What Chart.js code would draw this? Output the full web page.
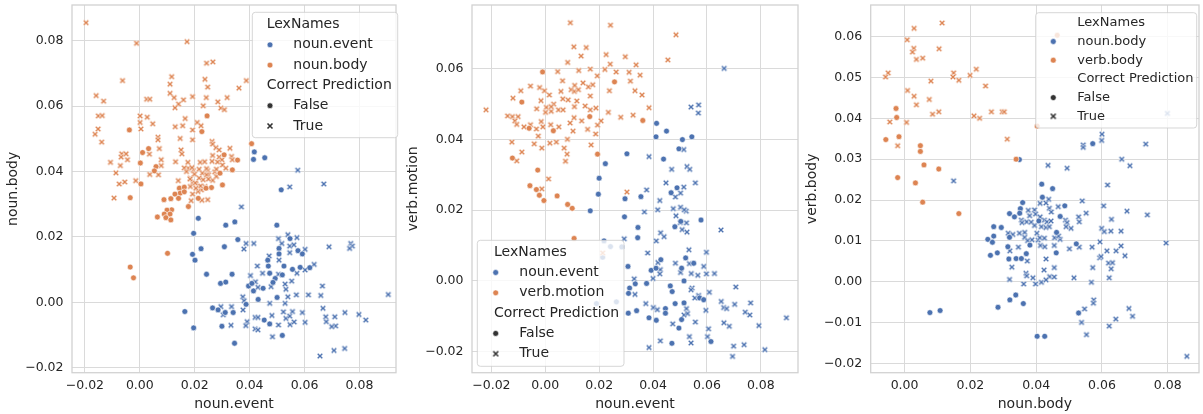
<!DOCTYPE html>
<html><head><meta charset="utf-8">
<script src="https://cdn.jsdelivr.net/npm/chart.js@4.4.1/dist/chart.umd.min.js"></script>
<style>
html,body{margin:0;padding:0;background:#fff;}
#wrap{position:relative;width:1203px;height:414px;overflow:hidden;background:#fff;}
canvas{position:absolute;top:0;}
</style></head><body>
<div id="wrap">
<canvas id="c1" style="left:0px" width="400" height="414"></canvas>
<canvas id="c2" style="left:400px" width="402" height="414"></canvas>
<canvas id="c3" style="left:800px" width="403" height="414"></canvas>
</div>
<script>
// ---------- labels ----------
const hueTitle = 'LexNames';
const styleTitle = 'Correct Prediction';
const styleLabels = ['False', 'True'];
const p1Hue = ['noun.event', 'noun.body'];
const p2Hue = ['noun.event', 'verb.motion'];
const p3Hue = ['noun.body', 'verb.body'];
const p1Axes = ['noun.event', 'noun.body'];
const p2Axes = ['noun.event', 'verb.motion'];
const p3Axes = ['noun.body', 'verb.body'];
const p1XTicks = [-0.02, 0, 0.02, 0.04, 0.06, 0.08];
const p1YTicks = [-0.02, 0, 0.02, 0.04, 0.06, 0.08];
const p2XTicks = [-0.02, 0, 0.02, 0.04, 0.06, 0.08];
const p2YTicks = [-0.02, 0, 0.02, 0.04, 0.06];
const p3XTicks = [0, 0.02, 0.04, 0.06, 0.08];
const p3YTicks = [-0.02, -0.01, 0, 0.01, 0.02, 0.03, 0.04, 0.05, 0.06];

// ---------- panel 1: noun.event vs noun.body ----------
const p1BodyTrue = [[-0.0196,0.0855],[-0.0012,0.0792],[0.0172,0.0797],[0.0243,0.0731],[0.0266,0.0735],[-0.0063,0.0678],[0.0116,0.069],[0.0237,0.0682],[0.0388,0.0678],[0.0361,0.0655],[0.0247,0.0658],[0.011,0.0667],[-0.0159,0.0632],[-0.0132,0.0615],[0.0025,0.0621],[0.0036,0.0621],[0.011,0.0639],[0.0125,0.0626],[0.0159,0.0619],[0.0192,0.0629],[0.0242,0.0626],[0.0141,0.0606],[0.0128,0.0595],[0.0231,0.0601],[0.0284,0.0613],[0.0318,0.0626],[0.0295,0.0594],[0.0308,0.0589],[-0.0151,0.057],[-0.0137,0.0571],[0.0001,0.057],[0.0027,0.0566],[0.0165,0.0562],[-0.0152,0.053],[-0.0163,0.0514],[-0.0139,0.049],[0.0001,0.055],[0.0004,0.053],[0.0047,0.0546],[0.0129,0.0537],[0.0156,0.054],[0.0209,0.055],[0.0223,0.054],[0.0192,0.0527],[0.0147,0.0501],[0.0066,0.0505],[0.0066,0.0497],[0.0192,0.0497],[0.0263,0.0492],[0.0265,0.0484],[0.0277,0.0473],[0.0328,0.0471],[0.015,0.0466],[0.0071,0.047],[-0.0066,0.0454],[-0.005,0.0454],[-0.0068,0.0444],[-0.0045,0.0436],[0.0035,0.0453],[0.0153,0.0454],[-0.0107,0.0428],[-0.0071,0.0418],[0.0078,0.0436],[0.0078,0.0418],[0.013,0.043],[0.0175,0.0428],[0.022,0.0428],[0.0236,0.043],[0.0265,0.0449],[0.0289,0.0444],[0.0299,0.0436],[0.0334,0.0446],[0.0337,0.0436],[-0.0087,0.0396],[-0.0075,0.0362],[-0.0055,0.0368],[-0.0015,0.0372],[0.0036,0.0391],[0.0068,0.039],[0.014,0.0372],[0.0176,0.041],[0.0195,0.0403],[0.0216,0.0407],[0.0228,0.0395],[0.0247,0.0403],[0.0273,0.0399],[0.0184,0.038],[0.0192,0.0366],[0.0204,0.0362],[0.0216,0.038],[0.0231,0.0375],[0.025,0.039],[0.0265,0.0373],[0.0237,0.0354],[0.0224,0.0344],[0.0212,0.0339],[0.0192,0.0331],[0.0187,0.0311],[0.0247,0.0314],[-0.0094,0.0319],[0.0289,0.0466],[0.0263,0.0431],[0.0283,0.0429],[0.0301,0.042],[0.0313,0.041],[0.0243,0.0409],[0.0279,0.0407],[0.019,0.0412],[0.0162,0.0411],[0.017,0.04],[0.0199,0.0392],[0.0243,0.039],[0.0279,0.0385],[0.025,0.0377],[0.0183,0.0377],[0.0202,0.0365],[0.0221,0.0356],[0.0184,0.0354],[0.0204,0.0349],[0.0226,0.0312]];
const p1BodyFalse = [[-0.0038,0.0527],[0.0245,0.057],[0.0226,0.0522],[0.0407,0.0485],[0.001,0.0458],[0.0032,0.047],[0.0002,0.0426],[0.0059,0.0415],[0.0053,0.0402],[0.0004,0.0362],[0.0307,0.0451],[0.0356,0.0435],[0.0337,0.0405],[0.0292,0.0395],[0.0301,0.0359],[0.0261,0.0351],[0.0241,0.0349],[0.0144,0.0349],[0.0162,0.0352],[0.0147,0.0334],[0.0162,0.0338],[0.0128,0.0331],[0.0141,0.0318],[0.0088,0.0314],[0.0113,0.0317],[-0.0035,0.032],[0.0213,0.0318],[0.0177,0.0293],[0.0116,0.0283],[0.0099,0.0282],[0.0089,0.027],[0.011,0.027],[0.0064,0.0261],[0.0095,0.0259],[0.0113,0.0252],[0.0101,0.015],[-0.0035,0.0108],[-0.0023,0.0075]];
const p1EventFalse = [[0.0417,0.046],[0.0414,0.0437],[0.0455,0.0442],[0.0515,0.0344],[0.0213,0.0257],[0.0196,0.0211],[0.0313,0.0236],[0.0346,0.0246],[0.0499,0.0236],[0.0357,0.0192],[0.0223,0.0164],[0.0192,0.0147],[0.0201,0.0129],[0.0308,0.017],[0.0243,0.0086],[0.0294,0.0058],[0.0313,0.0062],[0.0336,0.0086],[0.0396,0.005],[0.0414,0.0035],[0.0431,0.0009],[0.0387,-0.0006],[0.0408,0.0058],[0.0449,0.0043],[0.0466,0.0129],[0.0468,0.0111],[0.0507,0.0165],[0.0507,0.0148],[0.0547,0.0195],[0.0576,0.0158],[0.0592,0.0148],[0.0556,0.0101],[0.0584,0.0107],[0.0619,0.0106],[0.0525,0.0111],[0.0473,0.0089],[0.0493,0.0073],[0.0485,0.0061],[0.0519,0.0084],[0.05,0.0015],[0.0164,-0.0028],[0.0265,-0.0017],[0.0285,-0.0023],[0.0311,-0.0031],[0.034,-0.0031],[0.0299,-0.0073],[0.0196,-0.0078],[0.0345,-0.0125],[0.0453,-0.0054],[0.0473,-0.0066],[0.0519,-0.0101]];
const p1EventTrue = [[0.037,0.0292],[0.0575,0.0404],[0.0546,0.0353],[0.067,0.0362],[0.0539,0.0207],[0.0572,0.0198],[0.0505,0.0195],[0.0517,0.018],[0.0546,0.0172],[0.0561,0.0176],[0.0546,0.0152],[0.0602,0.0162],[0.0387,0.018],[0.0415,0.018],[0.0379,0.0163],[0.0471,0.0142],[0.0428,0.0111],[0.0507,0.0129],[0.0572,0.0089],[0.0635,0.0116],[0.0602,0.0099],[0.0447,0.0089],[0.0403,0.0082],[0.0421,0.0063],[0.043,0.0046],[0.0478,0.0048],[0.0505,0.0086],[0.0529,0.0056],[0.0553,0.0065],[0.0532,0.004],[0.0539,0.0017],[0.0529,-0.0003],[0.057,0.0023],[0.0665,0.005],[0.0614,0.0023],[0.0659,0.0021],[0.0667,-0.0018],[0.0768,0.018],[0.0774,0.0172],[0.0764,0.0165],[0.0689,0.017],[0.0905,0.0024],[0.0375,0.0017],[0.038,0.0005],[0.0376,-0.0023],[0.0295,-0.0013],[0.0334,-0.0013],[0.0304,-0.0038],[0.0332,-0.007],[0.0391,-0.0059],[0.0386,-0.0071],[0.042,-0.0046],[0.043,-0.0046],[0.042,-0.0081],[0.043,-0.0084],[0.0481,-0.004],[0.0483,-0.0105],[0.0473,-0.0003],[0.0505,-0.0069],[0.0523,-0.0029],[0.0532,-0.0049],[0.0546,-0.0042],[0.0556,-0.0028],[0.0547,-0.0068],[0.0562,-0.006],[0.0592,-0.0031],[0.0602,-0.0061],[0.0677,-0.0044],[0.071,-0.0044],[0.0713,-0.0072],[0.0699,-0.0074],[0.0679,-0.0059],[0.0747,-0.0031],[0.0798,-0.0037],[0.0823,-0.0054],[0.0656,-0.0164],[0.0707,-0.0147],[0.0746,-0.0141]];

// ---------- panel 2: noun.event vs verb.motion ----------
const p2MotionTrue = [[0.0093,0.0729],[0.0242,0.0722],[0.0485,0.0695],[0.0106,0.0661],[0.0152,0.0659],[0.0133,0.0635],[0.0226,0.0639],[0.0297,0.0633],[0.0455,0.0624],[0.0083,0.0617],[0.0241,0.0612],[0.0337,0.061],[0.0167,0.0598],[0.0124,0.0594],[0.0046,0.0591],[0.0221,0.0597],[0.0263,0.059],[0.0311,0.0589],[0.0352,0.0581],[0.0193,0.0579],[0.0064,0.0565],[0.0316,0.0564],[-0.0091,0.0537],[-0.0055,0.055],[-0.0021,0.0546],[-0.0003,0.0537],[0.0015,0.0525],[0.0058,0.0535],[0.0109,0.0552],[0.0096,0.054],[0.0108,0.0535],[0.0123,0.054],[0.014,0.0559],[0.016,0.0548],[0.0176,0.0554],[0.0167,0.0522],[0.0238,0.0537],[0.0333,0.0537],[0.0359,0.0525],[0.0065,0.0514],[0.0085,0.0511],[0.0117,0.0508],[-0.012,0.0516],[-0.022,0.0483],[-0.014,0.0466],[-0.0122,0.0464],[-0.0101,0.0464],[-0.0113,0.0452],[-0.0106,0.0442],[-0.0079,0.0435],[-0.0055,0.0441],[-0.0033,0.0429],[-0.0015,0.045],[-0.0009,0.0435],[-0.0032,0.0486],[-0.0016,0.0509],[0.0004,0.049],[0.0001,0.0476],[0.0022,0.0479],[0.0031,0.0499],[0.0022,0.0492],[0.0049,0.0483],[0.0066,0.0483],[0.0092,0.0446],[0.0107,0.0461],[0.0108,0.0492],[0.0135,0.0452],[0.0148,0.0494],[0.0167,0.0483],[0.0188,0.0488],[0.0207,0.0452],[0.0234,0.0476],[0.0194,0.044],[0.0157,0.0428],[0.0103,0.0423],[0.002,0.0441],[0.005,0.0435],[0.028,0.0462],[0.0326,0.0468],[0.0385,0.0489],[0.0187,0.0415],[0.017,0.0384],[0.0017,0.0389],[0.0041,0.0392],[0.0082,0.04],[-0.0026,0.0409],[-0.0041,0.0387],[-0.0013,0.0375],[0.007,0.0375],[0.0081,0.0358],[0.0075,0.0338],[-0.0124,0.0392],[-0.0087,0.0364],[-0.0106,0.0339],[0.0012,0.0288],[-0.0013,0.026],[0.0303,0.0251],[0.0213,0.0079]];
const p2MotionFalse = [[-0.001,0.059],[0.0257,0.0562],[-0.0087,0.0505],[0.0165,0.0464],[0.0362,0.0453],[-0.006,0.0431],[0.003,0.0424],[0.0194,0.0358],[-0.0122,0.0347],[-0.0028,0.0313],[-0.0057,0.0269],[-0.0033,0.0258],[-0.0022,0.0242],[-0.0005,0.0227],[0.0044,0.024],[0.0083,0.0216],[0.01,0.0205],[0.0107,0.012]];
const p2EventFalse = [[0.0413,0.0445],[0.045,0.0423],[0.0411,0.0407],[0.0509,0.0399],[0.0544,0.0407],[0.0496,0.0373],[0.0303,0.0359],[0.0439,0.0344],[0.0223,0.0331],[0.02,0.029],[0.0197,0.0245],[0.0296,0.0232],[0.0467,0.0249],[0.0489,0.0263],[0.0355,0.0238],[0.0167,0.0198],[0.0294,0.0181],[0.0344,0.0151],[0.0503,0.0168],[0.0481,0.0153],[0.0578,0.0172],[0.0343,0.0122],[0.0307,0.0041],[0.0393,0.003],[0.0411,0.0036],[0.0429,0.006],[0.0521,0.0065],[0.0551,0.005],[0.0506,0.0036],[0.0515,0.0],[0.0376,-0.0007],[0.0334,-0.0008],[0.0313,-0.002],[0.0309,-0.0035],[0.0464,-0.0014],[0.0471,-0.003],[0.0482,-0.0064],[0.0515,-0.0062],[0.0446,-0.0078],[0.0446,-0.0091],[0.0339,-0.0084],[0.0308,-0.0091],[0.0385,-0.0104],[0.0412,-0.0111],[0.0506,-0.0109],[0.0496,-0.0133],[0.0615,-0.0171],[0.047,-0.0176],[0.0218,0.0113],[0.0242,0.0097],[0.0284,0.0096],[0.0213,0.0067],[0.019,-0.0064],[0.0264,-0.0059],[0.0573,-0.0048],[0.0588,-0.0053]];
const p2EventTrue = [[0.0664,0.06],[0.0541,0.0491],[0.0569,0.0497],[0.0568,0.0474],[0.0385,0.0351],[0.0514,0.0371],[0.0526,0.0323],[0.0536,0.0315],[0.0469,0.0315],[0.0448,0.0277],[0.0557,0.0277],[0.0514,0.0265],[0.0502,0.0248],[0.0376,0.0257],[0.0425,0.0227],[0.0483,0.0237],[0.0417,0.0201],[0.0475,0.0204],[0.0502,0.0208],[0.0523,0.0197],[0.0516,0.0201],[0.0368,0.0195],[0.0485,0.0184],[0.0501,0.0165],[0.0524,0.0164],[0.0508,0.0145],[0.0526,0.0138],[0.0652,0.0144],[0.0428,0.0136],[0.0441,0.0125],[0.0293,0.0119],[0.0412,0.0113],[0.0533,0.0088],[0.0598,0.0081],[0.038,0.0079],[0.0418,0.0052],[0.0427,0.0032],[0.0425,0.002],[0.0483,0.005],[0.0535,0.0049],[0.0588,0.0041],[0.0502,0.0024],[0.0542,0.0021],[0.0566,0.0016],[0.0598,0.002],[0.0628,0.0021],[0.04,0.0007],[0.033,0.0006],[0.0545,-0.002],[0.0541,-0.0025],[0.0555,-0.0048],[0.0609,-0.0032],[0.0569,-0.0041],[0.0333,-0.0038],[0.0707,-0.0017],[0.0373,-0.0064],[0.0401,-0.0075],[0.0416,-0.0081],[0.0524,-0.0078],[0.0515,-0.0096],[0.0528,-0.0092],[0.0596,-0.0083],[0.0653,-0.0058],[0.0662,-0.0075],[0.0673,-0.0078],[0.0703,-0.0066],[0.0762,-0.0062],[0.0742,-0.0088],[0.0759,-0.0096],[0.0557,-0.0116],[0.0663,-0.0118],[0.0683,-0.0128],[0.0793,-0.0126],[0.0473,-0.0121],[0.0606,-0.0135],[0.0602,-0.0157],[0.0535,-0.0157],[0.0427,-0.0169],[0.0541,-0.0175],[0.0385,-0.0188],[0.0699,-0.0184],[0.0738,-0.018],[0.0815,-0.0194],[0.0695,-0.0213],[0.0895,-0.0104]];

// ---------- panel 3: noun.body vs verb.body ----------
const p3VBodyTrue = [[0.0114,0.0633],[0.0029,0.062],[0.0008,0.0592],[0.0028,0.0571],[0.0024,0.0562],[0.0105,0.057],[0.0036,0.0544],[0.0055,0.0547],[-0.005,0.0511],[-0.0058,0.0501],[0.0149,0.0511],[0.0147,0.0501],[0.0165,0.0493],[0.008,0.0491],[0.0218,0.052],[0.0199,0.0505],[0.0246,0.0479],[0.0009,0.0468],[0.0029,0.0454],[0.0075,0.0446],[0.0036,0.0433],[0.0085,0.041],[0.0104,0.0416],[0.0211,0.0406],[0.0228,0.04],[0.0264,0.0416],[0.0297,0.0416],[0.0303,0.0416],[-0.0045,0.0391],[0.0006,0.039],[-0.0021,0.0333],[0.0312,0.0349]];
const p3VBodyFalse = [[-0.0026,0.0424],[-0.0024,0.0402],[-0.0057,0.0348],[-0.0017,0.0355],[0.0048,0.0333],[0.0048,0.0319],[0.0059,0.0286],[0.0104,0.0276],[-0.0021,0.0255],[0.0033,0.0242],[0.0339,0.03],[0.0055,0.0195],[0.0165,0.0167],[0.0464,0.0603],[0.0403,0.0381]];
const p3NBodyFalse = [[0.0349,0.0299],[0.0572,0.0338],[0.0417,0.0239],[0.0419,0.0207],[0.045,0.0228],[0.0359,0.0194],[0.0487,0.0186],[0.0352,0.0179],[0.0319,0.0167],[0.035,0.0168],[0.0334,0.0159],[0.0408,0.0149],[0.0473,0.016],[0.0271,0.0135],[0.0294,0.0133],[0.0271,0.0112],[0.0253,0.0104],[0.0319,0.0109],[0.0267,0.0097],[0.0462,0.0121],[0.0314,0.0086],[0.0381,0.009],[0.0261,0.0065],[0.0282,0.0071],[0.037,0.0069],[0.0461,0.0071],[0.0522,0.0093],[0.0317,0.0056],[0.0339,0.0057],[0.0355,0.0057],[0.0284,-0.0062],[0.032,-0.0044],[0.0338,-0.0032],[0.0361,-0.0053],[0.0529,-0.0076],[0.0077,-0.0075],[0.0108,-0.007],[0.0403,-0.0133],[0.0426,-0.0133]];
const p3NBodyTrue = [[0.0149,0.0247],[0.0799,0.0412],[0.06,0.0361],[0.0599,0.0346],[0.0543,0.0335],[0.0543,0.0329],[0.0733,0.0337],[0.066,0.03],[0.0685,0.0284],[0.0436,0.0285],[0.0494,0.0278],[0.0617,0.0237],[0.054,0.0198],[0.0412,0.0192],[0.043,0.0193],[0.0438,0.0202],[0.0605,0.0186],[0.0467,0.0184],[0.044,0.018],[0.0446,0.0171],[0.0552,0.0168],[0.0676,0.0173],[0.0376,0.0175],[0.0395,0.0176],[0.0398,0.0166],[0.038,0.0162],[0.0412,0.0159],[0.0425,0.0151],[0.0433,0.0147],[0.0445,0.0149],[0.0355,0.0151],[0.0357,0.0145],[0.0371,0.0147],[0.0385,0.0146],[0.0395,0.0138],[0.0416,0.0135],[0.043,0.0133],[0.044,0.0135],[0.0489,0.0151],[0.0494,0.0145],[0.0506,0.0131],[0.0491,0.0135],[0.0529,0.0159],[0.0531,0.0147],[0.0629,0.0153],[0.0599,0.0131],[0.0607,0.0123],[0.0627,0.0124],[0.0315,0.0119],[0.0329,0.0116],[0.0349,0.0119],[0.0365,0.0121],[0.0365,0.0109],[0.0387,0.0103],[0.0402,0.0119],[0.0406,0.0102],[0.0411,0.0108],[0.0425,0.0107],[0.0456,0.0108],[0.0473,0.0104],[0.0468,0.0112],[0.0374,0.0101],[0.0346,0.0085],[0.0413,0.0089],[0.0426,0.0086],[0.0455,0.0089],[0.0501,0.0081],[0.0531,0.0085],[0.057,0.0085],[0.0594,0.0098],[0.0615,0.0076],[0.0643,0.0076],[0.0658,0.0088],[0.067,0.0064],[0.0593,0.0059],[0.0597,0.0062],[0.062,0.0046],[0.0632,0.0047],[0.0628,0.0032],[0.0572,0.0035],[0.0622,0.001],[0.032,0.0076],[0.0373,0.0051],[0.043,0.0056],[0.0326,0.0036],[0.0424,0.0029],[0.0455,0.0035],[0.0369,0.0021],[0.0371,0.0015],[0.039,0.001],[0.0441,0.0013],[0.0455,0.0012],[0.0319,0.0006],[0.0515,0.001],[0.0362,-0.0005],[0.0398,-0.0005],[0.0416,-0.0001],[0.043,0.0005],[0.0568,-0.0001],[0.0575,-0.0044],[0.0574,-0.0052],[0.0547,-0.0066],[0.0642,-0.0091],[0.0795,0.0095],[0.0738,0.0164],[0.0658,0.0124],[0.0538,-0.0099],[0.0622,-0.0108],[0.0682,-0.0065],[0.0693,-0.0084],[0.0553,-0.0129],[0.0858,-0.0182]];

// ---------- styling ----------
const BLUE = '#4c72b0', ORANGE = '#dd8452', GRAY = '#333333', TEXT = '#262626';
const GRID = '#dadada', FRAME = '#d2d2d2';
Chart.defaults.font.family = '"DejaVu Sans", sans-serif';

function xMarker(color, size, arm, w) {
  const c = document.createElement('canvas');
  c.width = size; c.height = size;
  const g = c.getContext('2d');
  const m = size / 2, a = m - arm, b = m + arm;
  const line = (lw, col) => {
    g.strokeStyle = col; g.lineWidth = lw; g.lineCap = 'butt';
    g.beginPath(); g.moveTo(a, a); g.lineTo(b, b); g.moveTo(b, a); g.lineTo(a, b); g.stroke();
  };
  line(w + 1.2, '#ffffff'); line(w, color);
  return c;
}
const X_BLUE = xMarker(BLUE, 8, 2.3, 1.4), X_ORANGE = xMarker(ORANGE, 8, 2.3, 1.4), X_GRAY = xMarker(GRAY, 8, 2.5, 1.6);

function pts(a) { return a.map(p => ({x: p[0], y: p[1]})); }
function fmt(v) { if (Math.abs(v) < 1e-9) return '0.00'; return (v < 0 ? '\u2212' : '') + Math.abs(v).toFixed(2); }

const framePlugin = {
  id: 'frame',
  beforeDatasetsDraw(chart) {
    const {ctx, chartArea: a} = chart;
    ctx.save(); ctx.strokeStyle = FRAME; ctx.lineWidth = 1.3;
    ctx.strokeRect(a.left, a.top, a.right - a.left, a.bottom - a.top);
    ctx.restore();
  }
};

const legendPlugin = {
  id: 'boxLegend',
  afterDatasetsDraw(chart, args, o) {
    const ctx = chart.ctx;
    ctx.save();
    const {x, y, w, h} = o.box, r = 3;
    ctx.beginPath();
    ctx.moveTo(x + r, y); ctx.lineTo(x + w - r, y); ctx.quadraticCurveTo(x + w, y, x + w, y + r);
    ctx.lineTo(x + w, y + h - r); ctx.quadraticCurveTo(x + w, y + h, x + w - r, y + h);
    ctx.lineTo(x + r, y + h); ctx.quadraticCurveTo(x, y + h, x, y + h - r);
    ctx.lineTo(x, y + r); ctx.quadraticCurveTo(x, y, x + r, y); ctx.closePath();
    ctx.fillStyle = 'rgba(255,255,255,0.8)'; ctx.fill();
    ctx.strokeStyle = 'rgba(204,204,204,0.8)'; ctx.lineWidth = 1; ctx.stroke();
    ctx.font = o.fontSize + 'px "DejaVu Sans"';
    ctx.textBaseline = 'middle'; ctx.textAlign = 'left';
    const rows = [
      {t: hueTitle, title: true},
      {t: o.hue[0], m: 'c', col: BLUE},
      {t: o.hue[1], m: 'c', col: ORANGE},
      {t: styleTitle, title: true},
      {t: styleLabels[0], m: 'c', col: GRAY},
      {t: styleLabels[1], m: 'x', col: GRAY}
    ];
    rows.forEach((row, i) => {
      const cy = o.firstY + i * o.rowH;
      ctx.fillStyle = TEXT;
      if (row.title) { ctx.fillText(row.t, o.titleX, cy); return; }
      if (row.m === 'c') {
        ctx.beginPath(); ctx.arc(o.markerX, cy, 2.9, 0, Math.PI * 2);
        ctx.fillStyle = row.col; ctx.fill();
        ctx.strokeStyle = '#fff'; ctx.lineWidth = 0.6; ctx.stroke();
      } else {
        ctx.drawImage(X_GRAY, o.markerX - 4, cy - 4, 8, 8);
      }
      ctx.fillStyle = TEXT;
      ctx.fillText(row.t, o.labelX, cy);
    });
    ctx.restore();
  }
};

function circleSet(label, data, color) {
  return {label, data: pts(data), pointStyle: 'circle', pointRadius: 2.9, pointHoverRadius: 2.9,
    backgroundColor: color, borderColor: '#ffffff', borderWidth: 0.6};
}
function crossSet(label, data, img) {
  return {label, data: pts(data), pointStyle: img, pointRadius: 4, pointHoverRadius: 4,
    backgroundColor: 'rgba(0,0,0,0)', borderColor: 'rgba(0,0,0,0)', borderWidth: 0};
}

function makeChart(id, c) {
  const tickFont = {size: 12.5, family: '"DejaVu Sans"'};
  const titleFont = {size: 14, family: '"DejaVu Sans"'};
  return new Chart(document.getElementById(id), {
    type: 'scatter',
    data: {datasets: [
      circleSet(c.hue[1] + ' False', c.oF, ORANGE),
      crossSet(c.hue[1] + ' True', c.oT, X_ORANGE),
      circleSet(c.hue[0] + ' False', c.bF, BLUE),
      crossSet(c.hue[0] + ' True', c.bT, X_BLUE)
    ]},
    options: {
      responsive: false, animation: false, events: [],
      layout: {padding: {left: 0, right: c.padR, top: 5, bottom: 0}},
      plugins: {
        legend: {display: false}, tooltip: {enabled: false},
        boxLegend: c.legend
      },
      scales: {
        x: {
          type: 'linear', min: c.xr[0], max: c.xr[1],
          afterBuildTicks: s => { s.ticks = c.xt.map(v => ({value: v})); },
          afterFit: s => { s.height = 41.3; s.paddingLeft = 0; s.paddingRight = 0; },
          grid: {color: GRID, lineWidth: 1, drawTicks: false},
          border: {display: false},
          ticks: {font: tickFont, color: TEXT, padding: 6, maxRotation: 0, autoSkip: false, callback: v => fmt(v)},
          title: {display: true, text: c.axes[0], font: titleFont, color: TEXT, padding: {top: 0, bottom: 1.4}}
        },
        y: {
          type: 'linear', min: c.yr[0], max: c.yr[1],
          afterBuildTicks: s => { s.ticks = c.yt.map(v => ({value: v})); },
          afterFit: s => { s.width = c.yW; s.paddingTop = 0; s.paddingBottom = 0; },
          grid: {color: GRID, lineWidth: 1, drawTicks: false},
          border: {display: false},
          ticks: {font: tickFont, color: TEXT, padding: 8.5, autoSkip: false, callback: v => fmt(v)},
          title: {display: true, text: c.axes[1], font: titleFont, color: TEXT, padding: {top: c.yTitlePad, bottom: 0}}
        }
      }
    },
    plugins: [framePlugin, legendPlugin]
  });
}

makeChart('c1', {
  hue: p1Hue, axes: p1Axes, xt: p1XTicks, yt: p1YTicks,
  oF: p1BodyFalse, oT: p1BodyTrue, bF: p1EventFalse, bT: p1EventTrue,
  xr: [-0.0247, 0.0933], yr: [-0.0215, 0.0909], yW: 72, padR: 1.7, yTitlePad: 5.3,
  legend: {hue: p1Hue, box: {x: 252.3, y: 12.3, w: 145.4, h: 125.4}, fontSize: 14,
    firstY: 24.5, rowH: 20.3, titleX: 266.7, labelX: 293.3, markerX: 270}
});
makeChart('c2', {
  hue: p2Hue, axes: p2Axes, xt: p2XTicks, yt: p2YTicks,
  oF: p2MotionFalse, oT: p2MotionTrue, bF: p2EventFalse, bT: p2EventTrue,
  xr: [-0.0272, 0.0938], yr: [-0.0259, 0.0779], yW: 72, padR: 2, yTitlePad: 4.6,
  legend: {hue: p2Hue, box: {x: 77.3, y: 240.3, w: 146.7, h: 126}, fontSize: 14,
    firstY: 252.2, rowH: 20.3, titleX: 94, labelX: 119.3, markerX: 95.7}
});
makeChart('c3', {
  hue: p3Hue, axes: p3Axes, xt: p3XTicks, yt: p3YTicks,
  oF: p3VBodyFalse, oT: p3VBodyTrue, bF: p3NBodyFalse, bT: p3NBodyTrue,
  xr: [-0.0103, 0.0895], yr: [-0.0222, 0.0677], yW: 70.7, padR: 3, yTitlePad: 3.6,
  legend: {hue: p3Hue, box: {x: 235.7, y: 12.7, w: 161, h: 115.3}, fontSize: 13,
    firstY: 22.8, rowH: 18.7, titleX: 277.3, labelX: 277.3, markerX: 253.3}
});
</script>
</body></html>
